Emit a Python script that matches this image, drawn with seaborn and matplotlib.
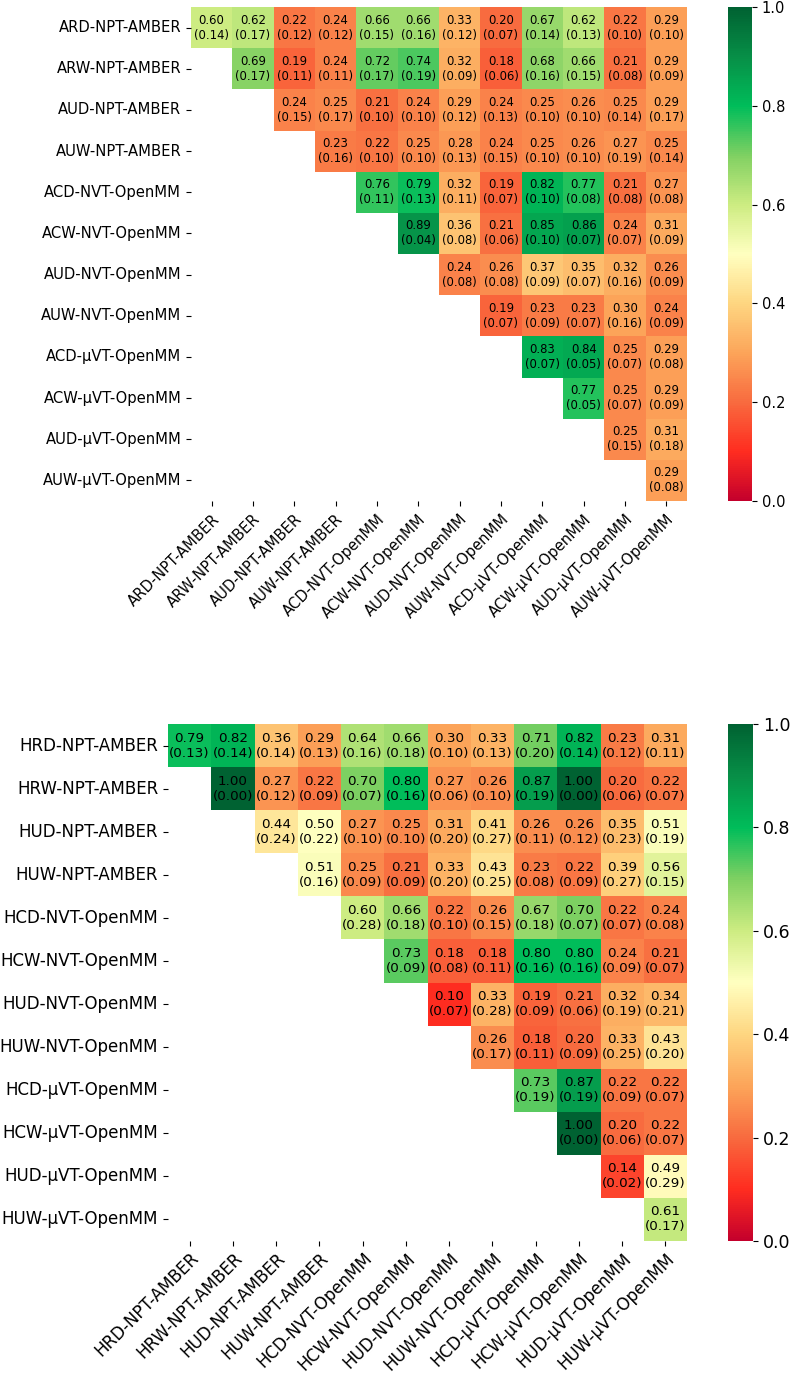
import numpy as np
import pandas as pd
import matplotlib
matplotlib.use("Agg")
import matplotlib.pyplot as plt
import seaborn as sns
from matplotlib.colors import LinearSegmentedColormap

# ---------------- data ----------------
top_labels = ["ARD-NPT-AMBER", "ARW-NPT-AMBER", "AUD-NPT-AMBER", "AUW-NPT-AMBER",
              "ACD-NVT-OpenMM", "ACW-NVT-OpenMM", "AUD-NVT-OpenMM", "AUW-NVT-OpenMM",
              "ACD-\u00b5VT-OpenMM", "ACW-\u00b5VT-OpenMM", "AUD-\u00b5VT-OpenMM", "AUW-\u00b5VT-OpenMM"]

# upper-triangle rows (row i starts at column i)
top_mean = [
    [0.60, 0.62, 0.22, 0.24, 0.66, 0.66, 0.33, 0.20, 0.67, 0.62, 0.22, 0.29],
    [0.69, 0.19, 0.24, 0.72, 0.74, 0.32, 0.18, 0.68, 0.66, 0.21, 0.29],
    [0.24, 0.25, 0.21, 0.24, 0.29, 0.24, 0.25, 0.26, 0.25, 0.29],
    [0.23, 0.22, 0.25, 0.28, 0.24, 0.25, 0.26, 0.27, 0.25],
    [0.76, 0.79, 0.32, 0.19, 0.82, 0.77, 0.21, 0.27],
    [0.89, 0.36, 0.21, 0.85, 0.86, 0.24, 0.31],
    [0.24, 0.26, 0.37, 0.35, 0.32, 0.26],
    [0.19, 0.23, 0.23, 0.30, 0.24],
    [0.83, 0.84, 0.25, 0.29],
    [0.77, 0.25, 0.29],
    [0.25, 0.31],
    [0.29],
]
top_std = [
    [0.14, 0.17, 0.12, 0.12, 0.15, 0.16, 0.12, 0.07, 0.14, 0.13, 0.10, 0.10],
    [0.17, 0.11, 0.11, 0.17, 0.19, 0.09, 0.06, 0.16, 0.15, 0.08, 0.09],
    [0.15, 0.17, 0.10, 0.10, 0.12, 0.13, 0.10, 0.10, 0.14, 0.17],
    [0.16, 0.10, 0.10, 0.13, 0.15, 0.10, 0.10, 0.19, 0.14],
    [0.11, 0.13, 0.11, 0.07, 0.10, 0.08, 0.08, 0.08],
    [0.04, 0.08, 0.06, 0.10, 0.07, 0.07, 0.09],
    [0.08, 0.08, 0.09, 0.07, 0.16, 0.09],
    [0.07, 0.09, 0.07, 0.16, 0.09],
    [0.07, 0.05, 0.07, 0.08],
    [0.05, 0.07, 0.09],
    [0.15, 0.18],
    [0.08],
]

bot_labels = ["HRD-NPT-AMBER", "HRW-NPT-AMBER", "HUD-NPT-AMBER", "HUW-NPT-AMBER",
              "HCD-NVT-OpenMM", "HCW-NVT-OpenMM", "HUD-NVT-OpenMM", "HUW-NVT-OpenMM",
              "HCD-\u00b5VT-OpenMM", "HCW-\u00b5VT-OpenMM", "HUD-\u00b5VT-OpenMM", "HUW-\u00b5VT-OpenMM"]

bot_mean = [
    [0.79, 0.82, 0.36, 0.29, 0.64, 0.66, 0.30, 0.33, 0.71, 0.82, 0.23, 0.31],
    [1.00, 0.27, 0.22, 0.70, 0.80, 0.27, 0.26, 0.87, 1.00, 0.20, 0.22],
    [0.44, 0.50, 0.27, 0.25, 0.31, 0.41, 0.26, 0.26, 0.35, 0.51],
    [0.51, 0.25, 0.21, 0.33, 0.43, 0.23, 0.22, 0.39, 0.56],
    [0.60, 0.66, 0.22, 0.26, 0.67, 0.70, 0.22, 0.24],
    [0.73, 0.18, 0.18, 0.80, 0.80, 0.24, 0.21],
    [0.10, 0.33, 0.19, 0.21, 0.32, 0.34],
    [0.26, 0.18, 0.20, 0.33, 0.43],
    [0.73, 0.87, 0.22, 0.22],
    [1.00, 0.20, 0.22],
    [0.14, 0.49],
    [0.61],
]
bot_std = [
    [0.13, 0.14, 0.14, 0.13, 0.16, 0.18, 0.10, 0.13, 0.20, 0.14, 0.12, 0.11],
    [0.00, 0.12, 0.09, 0.07, 0.16, 0.06, 0.10, 0.19, 0.00, 0.06, 0.07],
    [0.24, 0.22, 0.10, 0.10, 0.20, 0.27, 0.11, 0.12, 0.23, 0.19],
    [0.16, 0.09, 0.09, 0.20, 0.25, 0.08, 0.09, 0.27, 0.15],
    [0.28, 0.18, 0.10, 0.15, 0.18, 0.07, 0.07, 0.08],
    [0.09, 0.08, 0.11, 0.16, 0.16, 0.09, 0.07],
    [0.07, 0.28, 0.09, 0.06, 0.19, 0.21],
    [0.17, 0.11, 0.09, 0.25, 0.20],
    [0.19, 0.19, 0.09, 0.07],
    [0.00, 0.06, 0.07],
    [0.02, 0.29],
    [0.17],
]

cbar_ticks = [0.0, 0.2, 0.4, 0.6, 0.8, 1.0]

# ---------------- helpers ----------------
def build(labels, mean_rows, std_rows):
    n = len(labels)
    m = np.full((n, n), np.nan)
    annot = np.full((n, n), "", dtype=object)
    for i, (mr, sr) in enumerate(zip(mean_rows, std_rows)):
        for k, (v, s) in enumerate(zip(mr, sr)):
            m[i, i + k] = v
            annot[i, i + k] = f"{v:.2f}\n({s:.2f})"
    df = pd.DataFrame(m, index=labels, columns=labels)
    return df, annot, np.isnan(m)

cmap = LinearSegmentedColormap.from_list("custom_rdylgn", [
    (0.00, "#c4002c"),
    (0.10, "#ff2d20"),
    (0.20, "#f86b3f"),
    (0.30, "#fca55a"),
    (0.40, "#fed681"),
    (0.50, "#ffffc0"),
    (0.60, "#cdec82"),
    (0.70, "#80d062"),
    (0.80, "#00bd5a"),
    (0.90, "#078f47"),
    (1.00, "#006232"),
])

fig = plt.figure(figsize=(7.91, 13.73), dpi=100)
W, H = 791.0, 1373.0

def axes_px(x0, y0, x1, y1):
    return fig.add_axes([x0 / W, 1 - y1 / H, (x1 - x0) / W, (y1 - y0) / H])

panels = [
    dict(labels=top_labels, mean=top_mean, std=top_std,
         ax=(191, 7, 687, 501), cax=(728, 7, 752, 501),
         lab_fs=10.6, ann_fs=8.4, cb_fs=10.5, xpad=4.0),
    dict(labels=bot_labels, mean=bot_mean, std=bot_std,
         ax=(168, 724, 687, 1241), cax=(728, 724, 753, 1241),
         lab_fs=12.0, ann_fs=9.7, cb_fs=12.5, xpad=2.5),
]

for p in panels:
    df, annot, mask = build(p["labels"], p["mean"], p["std"])
    ax = axes_px(*p["ax"])
    cax = axes_px(*p["cax"])
    sns.heatmap(df, mask=mask, cmap=cmap, vmin=0, vmax=1, annot=annot, fmt="",
                annot_kws={"fontsize": p["ann_fs"], "color": "black"},
                ax=ax, cbar_ax=cax, cbar_kws={"ticks": cbar_ticks},
                linewidths=0)
    ax.set_xticks(np.arange(len(p["labels"])) + 0.5)
    ax.set_yticks(np.arange(len(p["labels"])) + 0.5)
    ax.set_xticklabels(p["labels"], rotation=45, ha="right", va="top",
                       rotation_mode="anchor", fontsize=p["lab_fs"])
    ax.set_yticklabels(p["labels"], rotation=0, fontsize=p["lab_fs"])
    ax.tick_params(axis="x", pad=p["xpad"])
    ax.set_xlabel("")
    ax.set_ylabel("")
    cax.tick_params(labelsize=p["cb_fs"])
    cax.set_yticklabels([f"{t:.1f}" for t in cbar_ticks])

fig.savefig("out.png", dpi=100)
